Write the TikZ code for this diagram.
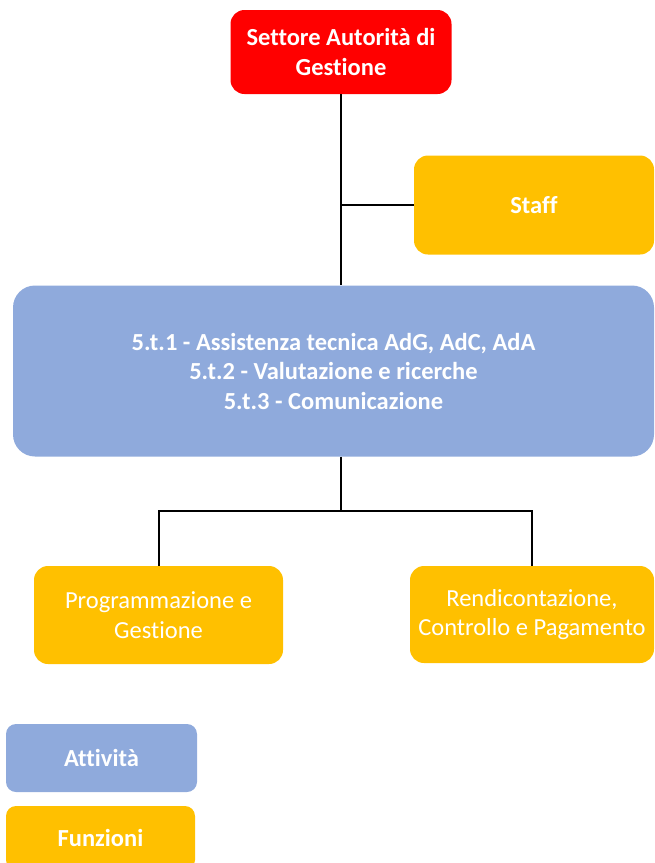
\documentclass[tikz,border=0pt]{standalone}
\usepackage{fontspec}
\setmainfont{Carlito}[Ligatures=CommonOff]
\definecolor{rosso}{HTML}{FF0000}
\definecolor{celeste}{HTML}{8FAADC}
\definecolor{giallo}{HTML}{FFC000}
\tikzset{
  box/.style={rectangle, rounded corners=14pt, text=white, align=center,
    font=\fontsize{24.5}{29.5}\selectfont, inner sep=0pt},
  boxb/.style={box, font=\fontsize{24.5}{29.5}\selectfont\bfseries},
  link/.style={draw=black, line width=2pt}
}
\begin{document}
\begin{tikzpicture}[x=1pt,y=-1pt]
  \useasboundingbox (0,0) rectangle (654,863);
  \draw
    (341,52) node[boxb, fill=rosso, minimum width=221pt, minimum height=84pt] (sag) {Settore Autorità di\\Gestione}
    (534,205) node[boxb, fill=giallo, minimum width=240pt, minimum height=99pt] (staff) {Staff}
    (333.5,371) node[boxb, fill=celeste, rounded corners=22pt, minimum width=641pt, minimum height=171pt] (att) {5.t.1 - Assistenza tecnica AdG, AdC, AdA\\5.t.2 - Valutazione e ricerche\\5.t.3 - Comunicazione}
    (158.5,615) node[box, fill=giallo, minimum width=249pt, minimum height=98pt] (prog) {Programmazione e\\Gestione}
    (532,614.5) node[box, fill=giallo, minimum width=244pt, minimum height=97pt] (rend) {Rendicontazione,\\Controllo e Pagamento}
    (101.5,758) node[boxb, fill=celeste, rounded corners=10pt, minimum width=191pt, minimum height=68pt] (legatt) {Attività}
    (100.5,838) node[boxb, fill=giallo, rounded corners=10pt, minimum width=189pt, minimum height=64pt] (legfun) {Funzioni};
  \coordinate (ramo) at (341,205);
  \coordinate (split) at (341,511);
  \begin{scope}[link]
    \draw (sag.south) to (sag.south |- att.north);
    \draw (ramo) to (staff.west);
    \draw (sag.south |- att.south) to (split);
    \draw (split) -| (prog.north);
    \draw (split) -| (rend.north);
  \end{scope}
\end{tikzpicture}
\end{document}
